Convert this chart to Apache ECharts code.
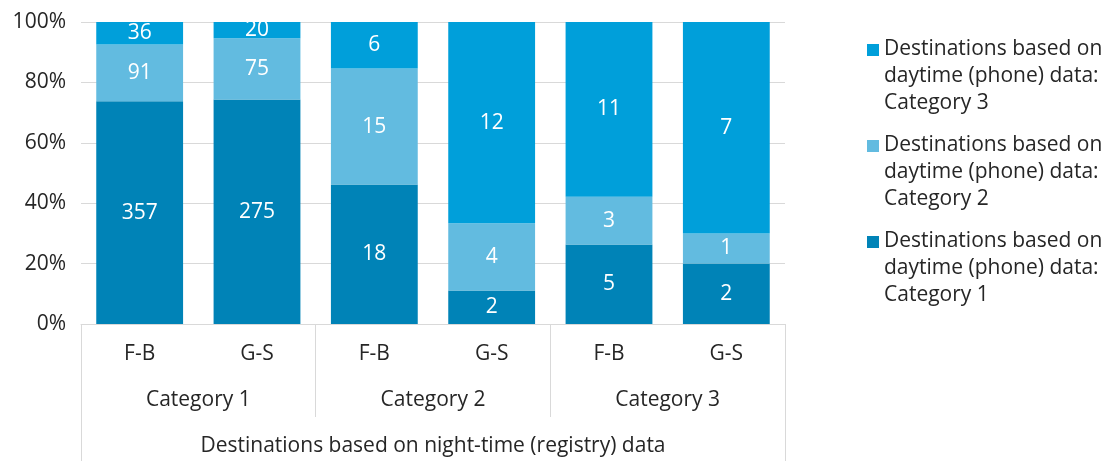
<!DOCTYPE html>
<html><head><meta charset="utf-8">
<script src="https://cdn.jsdelivr.net/npm/echarts@6/dist/echarts.min.js"></script>
<style>html,body{margin:0;padding:0;background:#fff}#c{width:1115px;height:461px}</style>
</head><body><div id="c"></div>
<script>
const subCats = ['F-B','G-S','F-B','G-S','F-B','G-S'];
const groupCats = ['Category 1','Category 2','Category 3'];
const topCat = ['Destinations based on night-time (registry) data'];
const seriesNames = [
  'Destinations based on\ndaytime (phone) data:\nCategory 1',
  'Destinations based on\ndaytime (phone) data:\nCategory 2',
  'Destinations based on\ndaytime (phone) data:\nCategory 3'
];
const cat1Counts = [357, 275, 18, 2, 5, 2];
const cat2Counts = [91, 75, 15, 4, 3, 1];
const cat3Counts = [36, 20, 6, 12, 11, 7];
const yTicks = ['0%','20%','40%','60%','80%','100%'];
const colors = ['#0083B7', '#62BBE0', '#009FDA'];

const counts = [cat1Counts, cat2Counts, cat3Counts];
const totals = subCats.map((_, i) => cat1Counts[i] + cat2Counts[i] + cat3Counts[i]);
const FONT = 'Open Sans';
const FS = 21;

const series = counts.map((arr, s) => ({
  name: seriesNames[s],
  type: 'bar',
  stack: 'all',
  xAxisIndex: 0,
  barCategoryGap: '26%',
  data: arr.map((v, i) => ({ value: v / totals[i] * 100, count: v })),
  itemStyle: { color: colors[s] },
  label: {
    show: true, position: 'inside', color: '#fff', fontSize: FS, fontFamily: FONT,
    formatter: p => p.data.count
  }
}));

// legend icon: square aligned with the first text line of a 3-line label
const legendIcon = 'path://M0,0L0.01,0M0,8h12v12h-12zM0,81L0.01,81';

const chart = echarts.init(document.getElementById('c'));
chart.setOption({
  animation: false,
  textStyle: { fontFamily: FONT },
  grid: { left: 81, right: 330, top: 22, bottom: 137 },
  legend: {
    orient: 'vertical', left: 862, top: 31,
    data: [seriesNames[2], seriesNames[1], seriesNames[0]],
    icon: legendIcon, itemWidth: 12, itemHeight: 81, itemGap: 15,
    textStyle: { fontSize: FS, color: '#262626', fontFamily: FONT, lineHeight: 27, padding: [0,0,0,0] }
  },
  xAxis: [
    { type: 'category', data: subCats, position: 'bottom',
      axisLine: { show: true, lineStyle: { color: '#d9d9d9', width: 1 } },
      axisTick: { show: false },
      axisLabel: { fontSize: FS, color: '#262626', margin: 20, fontFamily: FONT } },
    { type: 'category', data: groupCats, position: 'bottom', gridIndex: 0,
      axisLine: { show: false },
      axisTick: { show: true, length: 93, lineStyle: { color: '#d9d9d9' } },
      axisLabel: { fontSize: FS, color: '#262626', margin: 66, fontFamily: FONT } },
    { type: 'category', data: topCat, position: 'bottom', gridIndex: 0,
      axisLine: { show: false },
      axisTick: { show: true, length: 137, lineStyle: { color: '#d9d9d9' } },
      axisLabel: { fontSize: FS, color: '#262626', margin: 112, fontFamily: FONT } }
  ],
  yAxis: {
    type: 'value', min: 0, max: 100, interval: 20,
    axisLine: { show: false }, axisTick: { show: false },
    splitLine: { lineStyle: { color: '#d9d9d9' } },
    axisLabel: { fontSize: FS, color: '#262626', margin: 15, fontFamily: FONT,
      formatter: v => yTicks[Math.round(v / 20)] }
  },
  series: series
});
</script></body></html>
